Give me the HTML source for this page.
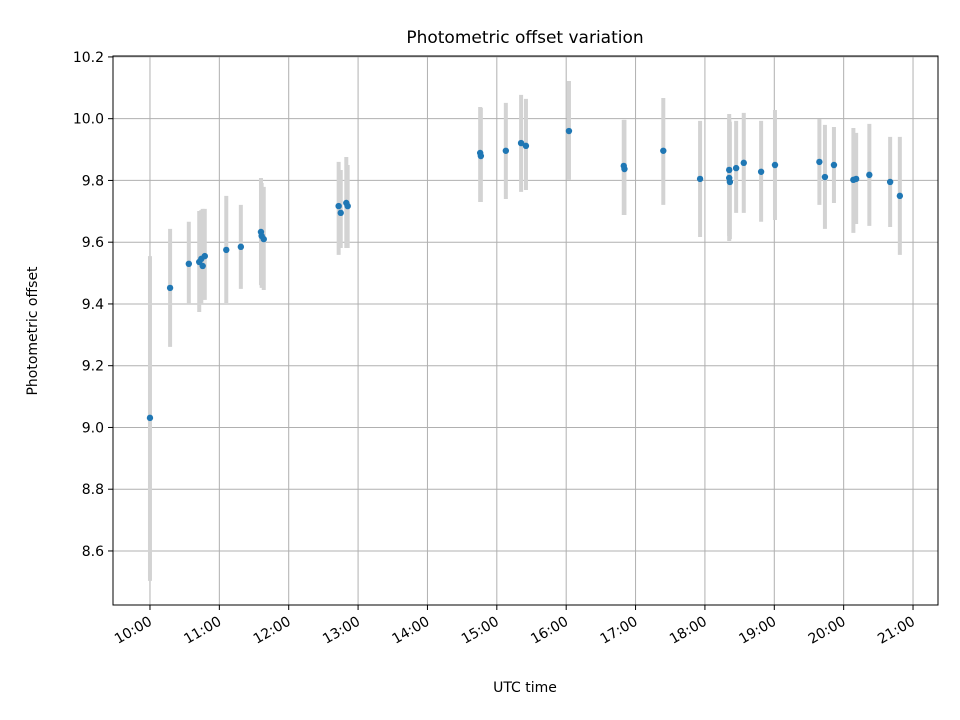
<!DOCTYPE html>
<html><head><meta charset="utf-8"><style>
body{margin:0;background:#fff}
svg{display:block;font-family:"DejaVu Sans","Liberation Sans",sans-serif}
</style></head><body>
<svg id="chart" width="960" height="720">
<rect width="960" height="720" fill="#fff"/>
<text x="525" y="43" text-anchor="middle" font-size="17">Photometric offset variation</text>
<text x="525" y="692" text-anchor="middle" font-size="14">UTC time</text>
<text transform="translate(37,331) rotate(-90)" text-anchor="middle" font-size="14">Photometric offset</text>
<g id="grid"></g><g id="errs"></g><g id="pts"></g><g id="axes"></g>
</svg>
<script>
const times=[10.00,10.29,10.56,10.71,10.74,10.76,10.79,11.10,11.31,11.60,11.61,11.64,12.72,12.75,12.83,12.85,14.76,14.77,15.13,15.35,15.42,16.04,16.83,16.84,17.40,17.93,18.35,18.35,18.36,18.45,18.56,18.81,19.01,19.65,19.73,19.86,20.14,20.18,20.37,20.67,20.81];
const offsets=[9.031,9.452,9.530,9.536,9.546,9.523,9.555,9.575,9.585,9.633,9.620,9.610,9.717,9.695,9.727,9.717,9.889,9.879,9.896,9.921,9.912,9.960,9.847,9.837,9.896,9.805,9.834,9.808,9.795,9.840,9.857,9.828,9.850,9.860,9.811,9.850,9.802,9.805,9.818,9.795,9.750];
const errHigh=[9.555,9.643,9.666,9.701,9.704,9.708,9.708,9.750,9.721,9.808,9.792,9.779,9.860,9.834,9.876,9.850,10.038,10.035,10.051,10.077,10.064,10.122,9.996,9.996,10.067,9.993,10.015,10.000,9.990,9.993,10.019,9.993,10.028,9.999,9.980,9.973,9.970,9.954,9.983,9.941,9.941];
const errLow=[8.503,9.261,9.397,9.374,9.397,9.413,9.413,9.403,9.449,9.461,9.452,9.445,9.559,9.581,9.581,9.581,9.730,9.730,9.740,9.763,9.769,9.802,9.688,9.688,9.721,9.617,9.604,9.620,9.610,9.695,9.695,9.666,9.672,9.721,9.643,9.727,9.630,9.659,9.653,9.649,9.559];
const yTicks=[8.6,8.8,9.0,9.2,9.4,9.6,9.8,10.0,10.2];
const xTicks=[10,11,12,13,14,15,16,17,18,19,20,21];
const X0=113,X1=938,Y0=56,Y1=605;
const xMin=9.467,xMax=21.36,yMin=8.425,yMax=10.203;
const sx=h=>X0+(h-xMin)/(xMax-xMin)*(X1-X0);
const sy=v=>Y1-(v-yMin)/(yMax-yMin)*(Y1-Y0);
const NS="http://www.w3.org/2000/svg";
function mk(tag,parent,attrs){const e=document.createElementNS(NS,tag);for(const k in attrs)e.setAttribute(k,attrs[k]);document.getElementById(parent).appendChild(e);return e;}
yTicks.forEach(v=>{
 const y=sy(v);
 const g=mk('line','grid',{x1:X0,x2:X1,y1:y,y2:y,stroke:'#b0b0b0','stroke-width':1});
 
 
 mk('line','axes',{x1:X0-5,x2:X0,y1:y,y2:y,stroke:'#000'});
 const t=mk('text','axes',{x:X0-9,y:y+5,'text-anchor':'end','font-size':14});
 t.textContent=v.toFixed(1);
 
 
});
xTicks.forEach(h=>{
 const x=sx(h);
 const g=mk('line','grid',{x1:x,x2:x,y1:Y0,y2:Y1,stroke:'#b0b0b0','stroke-width':1});
 
 
 mk('line','axes',{x1:x,x2:x,y1:Y1,y2:Y1+5,stroke:'#000'});
 const ax=x+3, ay=Y1+19;
 const t=mk('text','axes',{x:ax,y:ay,'text-anchor':'end','font-size':14,transform:`rotate(-30 ${ax} ${ay})`});
 t.textContent=h+':00';
 
 
});
const fr=mk('rect','axes',{x:X0,y:Y0,width:X1-X0,height:Y1-Y0,fill:'none',stroke:'#000','stroke-width':1});


times.forEach((h,i)=>{
 const e=mk('line','errs',{x1:sx(h),x2:sx(h),y1:sy(errHigh[i]),y2:sy(errLow[i]),stroke:'#d3d3d3','stroke-width':4});
 
 
 const p=mk('circle','pts',{cx:sx(h),cy:sy(offsets[i]),r:3.2,fill:'#1f77b4'});
 
 
});
</script>
</body></html>
